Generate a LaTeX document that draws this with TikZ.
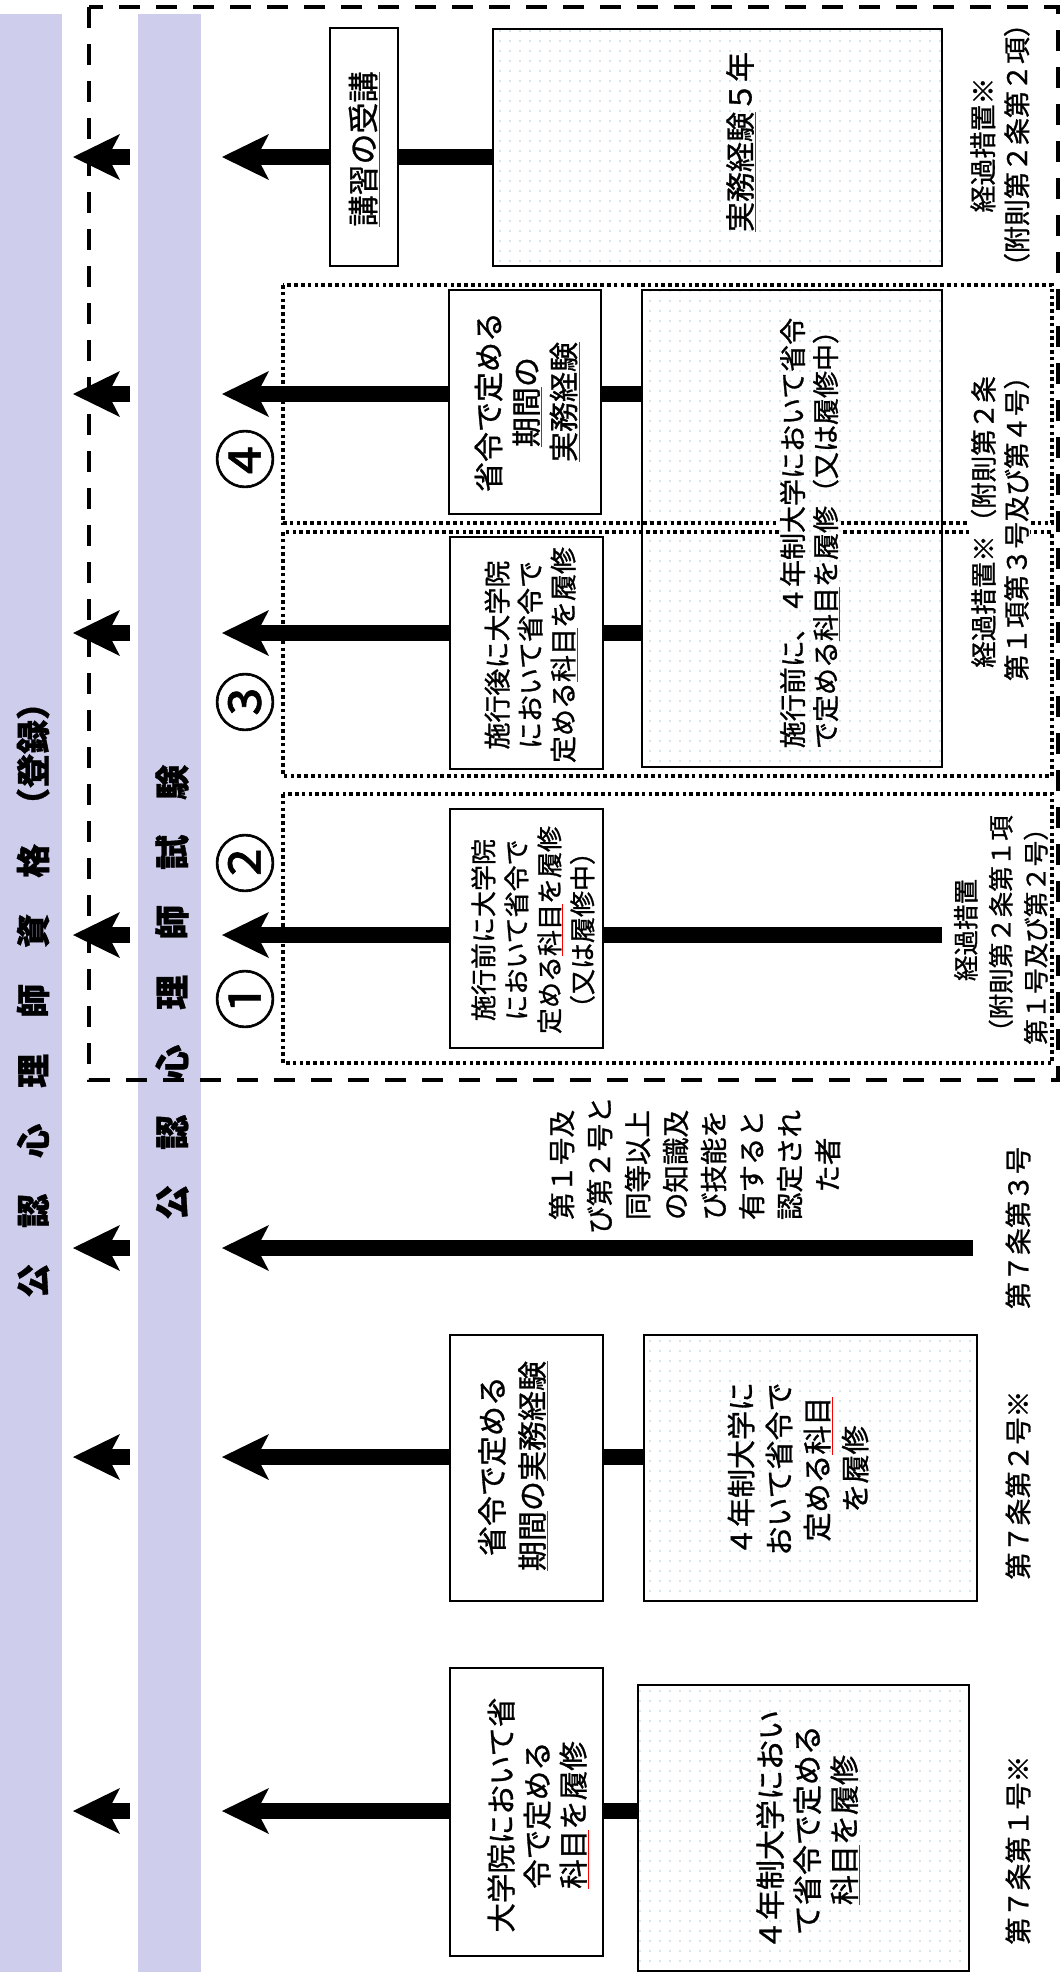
\documentclass[tikz,border=0pt]{standalone}
\usepackage{fontspec}
\setmainfont{Noto Sans CJK JP}[FakeBold=1]
\usetikzlibrary{arrows.meta,patterns.meta}
\definecolor{barc}{RGB}{206,206,236}
\definecolor{dotc}{RGB}{170,208,216}
\newcommand\rul[1]{{\color{red}\underline{\color{black}#1}}}
\newcommand\fs[2]{\fontsize{#1pt}{#2pt}\selectfont}
\begin{document}
\begin{tikzpicture}[x=1pt,y=-1pt,
  box/.style={draw, line width=2.5pt, fill=white, inner sep=0pt, outer sep=0pt},
  patbox/.style={draw, line width=2.5pt, inner sep=0pt, outer sep=0pt, preaction={fill=white}, pattern={Dots[distance=10pt,radius=0.9pt]}, pattern color=dotc},
  dotl/.style={line width=3.6pt, dash pattern=on 3.6pt off 3.2pt},
  dashl/.style={line width=4.5pt, dash pattern=on 21pt off 16pt},
  conn/.style={line width=16pt},
  arr/.style={line width=16pt, -{Stealth[length=47pt,width=46pt,inset=12pt,line width=0pt]}},
  txt/.style={rotate=90, align=center, inner sep=1pt},
  cover/.style={txt, fill=white},
  patcover/.style={txt, preaction={fill=white}, pattern={Dots[distance=10pt,radius=0.9pt]}, pattern color=dotc},
  circ/.style={rotate=90, inner sep=0pt, font={\fs{62}{62}}},
  law/.style={txt, font={\fs{27}{34}}},
  bartext/.style={rotate=90, anchor=west, inner sep=0pt}
]
\useasboundingbox (0,0) rectangle (1062,1981);

% lavender bars
\fill[barc] (0,14) rectangle (62,1972);
\fill[barc] (138,14) rectangle (201,1972);
\node[bartext, font={\fs{34}{40}\bfseries}] (bartxt1) at (33,1298)
  {公\hspace{36pt}認\hspace{36pt}心\hspace{36pt}理\hspace{36pt}師\hspace{36pt}資\hspace{36pt}格\hspace{22pt}（登録）};
\node[bartext, font={\fs{35}{40}\bfseries}] (bartxt2) at (172,1220)
  {公\hspace{35pt}認\hspace{35pt}心\hspace{35pt}理\hspace{35pt}師\hspace{35pt}試\hspace{35pt}験};

% transitional frame
\draw[dashl] (89,7) rectangle (1058,1080);

% ---- boxes ----
\node[box, minimum width=68pt, minimum height=238pt] (kosyu) at (364,147) {};
\node[patbox, minimum width=449pt, minimum height=237pt] (jm5) at (717.5,147.5) {};
\node[patbox, minimum width=300pt, minimum height=477pt] (big) at (792,528.5) {};
\node[box, minimum width=152pt, minimum height=224pt] (b4) at (525,402) {};
\node[box, minimum width=153pt, minimum height=232pt] (b3) at (526.5,653) {};
\node[box, minimum width=153pt, minimum height=239pt] (b12) at (526.5,928.5) {};
\node[box, minimum width=153pt, minimum height=266pt] (bF) at (526.5,1468) {};
\node[patbox, minimum width=333pt, minimum height=266pt] (bF2) at (810.5,1468) {};
\node[box, minimum width=153pt, minimum height=288pt] (bG1) at (526.5,1812) {};
\node[patbox, minimum width=331pt, minimum height=286pt] (bG2) at (803.5,1828) {};

% dotted groups
\draw[dotl] (283,285) rectangle (1052,523);
\draw[dotl] (283,532) rectangle (1052,776);
\draw[dotl] (283,794) rectangle (1052,1063);

% ---- coordinates ----
\foreach \n/\yy in {A/157,B/394,C/633,D/935,E/1248,F/1457,G/1811}{
  \coordinate (t\n) at (222,\yy);
  \coordinate (s\n) at (130,\yy);
  \coordinate (e\n) at (73,\yy);
}
\coordinate (end12) at (942,935);
\coordinate (startE) at (973,1248);

% ---- connectors between boxes ----
\draw[conn] (kosyu.east |- tA) -- (jm5.west |- tA);
\draw[conn] (b4.east |- tB) -- (big.west |- tB);
\draw[conn] (b3.east |- tC) -- (big.west |- tC);
\draw[conn] (b12.east |- tD) -- (end12);
\draw[conn] (bF.east |- tF) -- (bF2.west |- tF);
\draw[conn] (bG1.east |- tG) -- (bG2.west |- tG);

% ---- arrows to exam ----
\draw[arr] (kosyu.west |- tA) -- (tA);
\draw[arr] (b4.west |- tB) -- (tB);
\draw[arr] (b3.west |- tC) -- (tC);
\draw[arr] (b12.west |- tD) -- (tD);
\draw[arr] (startE) -- (tE);
\draw[arr] (bF.west |- tF) -- (tF);
\draw[arr] (bG1.west |- tG) -- (tG);
% ---- arrows to qualification ----
\foreach \n in {A,B,C,D,E,F,G}{
  \draw[arr] (s\n) -- (e\n);
}

% ---- texts ----
\node[txt, font={\fs{31}{38}}] (tkosyu) at (364,149) {\rul{講習の受講}};
\node[txt, font={\fs{30}{38}}] (tjm5) at (741,142) {\rul{実務経験}５年};
\node[law] (keika1) at (1000,145) {経過措置※\\（附則第２条第２項）};

\node[txt, font={\fs{30}{37.5}}] (tb4) at (527,402) {省令で定める\\\rul{期間}の\\\rul{実務経験}};
\node[patcover, font={\fs{27}{33}}] (tbig) at (810,533) {施行前に、４年制大学において省令\\で定める\rul{科目}を履修（又は履修中）};
\node[txt, font={\fs{27}{33}}] (tb3) at (531,655) {施行後に大学院\\において省令で\\定める\rul{科目}を履修};
\node[cover, font={\fs{26.5}{33}}] (keika2) at (1000,522) {経過措置※（附則第２条\\第１項第３号及び第４号）};

\node[txt, font={\fs{26}{33}}] (tb12) at (533,930) {施行前に大学院\\において省令で\\定める\rul{科目}を履修\\（又は履修中）};
\node[txt, font={\fs{25.5}{35}}] (keika3) at (1001,930) {経過措置\\（附則第２条第１項\\第１号及び第２号）};

\node[circ] (c4) at (245,459) {④};
\node[circ] (c3) at (245,702) {③};
\node[circ] (c2) at (245,863) {②};
\node[circ] (c1) at (245,999) {①};

\node[txt, font={\fs{27.5}{38}}] (tE) at (694.5,1165) {第１号及\\び第２号と\\同等以上\\の知識及\\び技能を\\有すると\\認定され\\た者};
\node[law] (law3) at (1018,1228) {第７条第３号};

\node[txt, font={\fs{30}{40}}] (tbF) at (513,1466) {省令で定める\\\rul{期間}の\rul{実務経験}};
\node[txt, font={\fs{29}{38}}] (tbF2) at (798,1469) {４年制大学に\\おいて省令で\\定める\rul{科目}\\を履修};
\node[law] (law2) at (1018,1485) {第７条第２号※};

\node[txt, font={\fs{29.5}{36}}] (tbG1) at (538,1815) {大学院において省\\令で定める\\\rul{科目}を履修};
\node[txt, font={\fs{30}{37}}] (tbG2) at (808,1830) {４年制大学におい\\て省令で定める\\\rul{科目}を履修};
\node[law] (law1) at (1018,1850) {第７条第１号※};
\end{tikzpicture}
\end{document}
